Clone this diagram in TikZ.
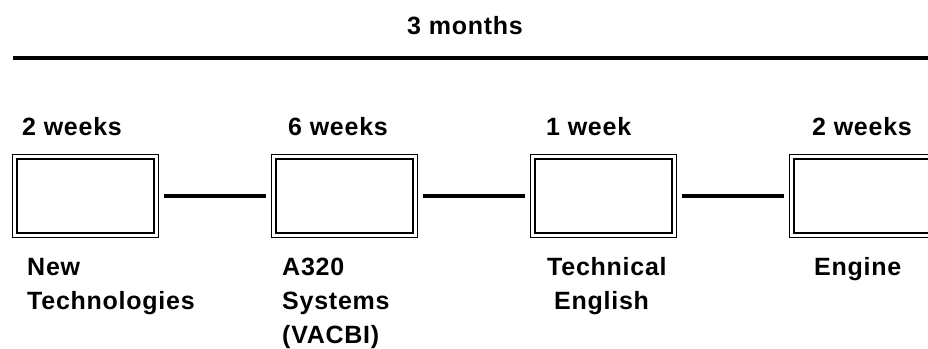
\documentclass[tikz,border=0pt]{standalone}
\usepackage{fontspec}
\setmainfont{Liberation Sans}[LetterSpace=3.0]
\begin{document}
\begin{tikzpicture}[x=1pt, y=-1pt,
  lbl/.style={anchor=base west, inner sep=0pt, align=left,
    font=\fontsize{25}{34}\selectfont\bfseries},
  course/.style={draw, line width=2pt, minimum width=137.6pt,
    minimum height=74.6pt, inner sep=0pt},
  frame/.style={draw, line width=1.3pt},
  link/.style={line width=3.5pt, shorten <=8.7pt, shorten >=8.7pt},
  span/.style={line width=3.5pt}]
  \useasboundingbox (0,0) rectangle (928,348);

  % overall duration
  \node[lbl] (total) at (407,34) {3 months};
  \coordinate (spanL) at (13,58);
  \coordinate (spanR) at (928,58);
  \draw[span] (spanL) -- (spanR);

  % course blocks with a thin outer frame around each
  \node[course] (b1) at (85.5,196) {};
  \node[course] (b2) at (344.5,196) {};
  \node[course] (b3) at (603.5,196) {};
  \node[course] (b4) at (862.5,196) {};
  \foreach \b in {b1,b2,b3,b4}
    \draw[frame] ([xshift=-3pt,yshift=3pt]\b.north west) rectangle
                 ([xshift=3pt,yshift=-3pt]\b.south east);

  \draw[link] (b1.east) -- (b2.west);
  \draw[link] (b2.east) -- (b3.west);
  \draw[link] (b3.east) -- (b4.west);

  % durations
  \node[lbl] (d1) at (22,135) {2 weeks};
  \node[lbl] (d2) at (288,135) {6 weeks};
  \node[lbl] (d3) at (546,135) {1 week};
  \node[lbl] (d4) at (812,135) {2 weeks};

  % course titles (placed at the baseline of their last line)
  \node[lbl] (t1) at (27,309) {New\\Technologies};
  \node[lbl] (t2) at (282,343) {A320\\Systems\\(VACBI)};
  \node[lbl] (t3) at (547,309) {Technical\\\hspace*{7pt}English};
  \node[lbl] (t4) at (814,275) {Engine};
\end{tikzpicture}
\end{document}
